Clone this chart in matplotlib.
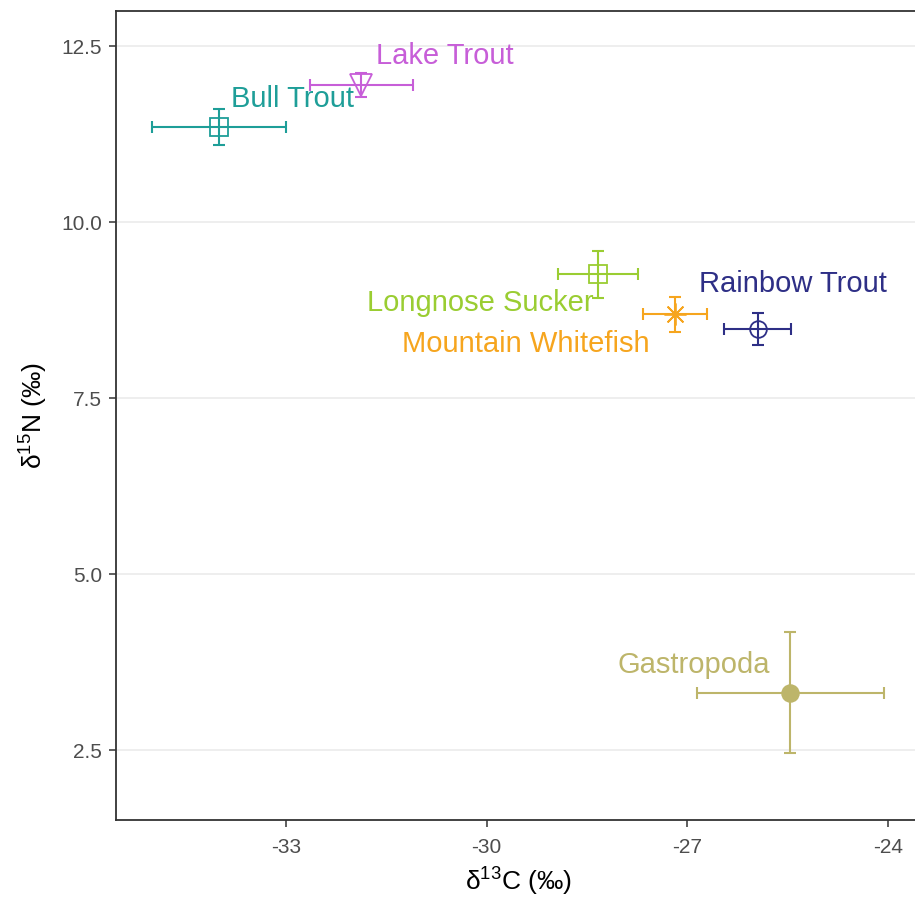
import numpy as np
import matplotlib
matplotlib.use("Agg")
import matplotlib.pyplot as plt

plt.rcParams['font.family'] = ['Liberation Sans', 'DejaVu Sans']

# ========= data =========
species = ["Bull Trout", "Lake Trout", "Longnose Sucker",
           "Mountain Whitefish", "Rainbow Trout", "Gastropoda"]
d13c = [-34.0, -31.88, -28.34, -27.19, -25.95, -25.46]
d13c_err = [1.0, 0.77, 0.6, 0.48, 0.5, 1.4]
d15n = [11.35, 11.95, 9.26, 8.69, 8.48, 3.32]
d15n_err = [0.26, 0.17, 0.33, 0.25, 0.23, 0.86]
label_x = [-32.91, -30.63, -30.1, -29.41, -25.42, -26.91]
label_y = [11.75, 12.36, 8.85, 8.27, 9.12, 3.71]

colors = ["#1E9E98", "#C75ED8", "#9ACD32", "#F6A51E", "#2E2F86", "#BDB56A"]
markers = ["s", "v", "s", (8, 2, 0), "o", "o"]
filled = [False, False, False, False, False, True]
msizes = [13, 16, 13, 16, 12, 12]

x_ticks = [-33, -30, -27, -24]
y_ticks = [2.5, 5.0, 7.5, 10.0, 12.5]

# ========= plot =========
fig = plt.figure(figsize=(9.15, 9.02), dpi=100)
ax = fig.add_axes([116 / 915, 82 / 902, 804 / 915, 809 / 902])

for i, name in enumerate(species):
    c = colors[i]
    ax.errorbar(d13c[i], d15n[i], xerr=d13c_err[i], yerr=d15n_err[i],
                fmt="none", ecolor=c, elinewidth=1.5, capsize=4.5, capthick=1.5,
                zorder=2)
    ax.plot(d13c[i], d15n[i], marker=markers[i], markersize=msizes[i],
            markerfacecolor=c if filled[i] else "none",
            markeredgecolor=c, markeredgewidth=1.3, linestyle="none", zorder=3)
    ax.text(label_x[i], label_y[i], name, color=c, fontsize=21,
            ha="center", va="center", zorder=4)

ax.set_xlim(-35.545, -23.52)
ax.set_ylim(1.51, 13.0)
ax.set_xticks(x_ticks)
ax.set_xticklabels([str(t) for t in x_ticks])
ax.set_yticks(y_ticks)
ax.set_yticklabels([f"{t:.1f}" for t in y_ticks])

ax.grid(axis="y", color="#EBEBEB", linewidth=1.2)
ax.grid(axis="x", visible=False)
ax.set_axisbelow(True)

for side in ["left", "bottom", "top"]:
    ax.spines[side].set_color("#333333")
    ax.spines[side].set_linewidth(1.3)
ax.spines["right"].set_visible(False)

ax.tick_params(axis="both", colors="#333333", length=5, width=1.1,
               labelsize=15, labelcolor="#4D4D4D")
ax.tick_params(axis="x", pad=8)
ax.tick_params(axis="y", pad=5)

ax.set_xlabel(r"$\mathregular{\delta^{13}C}$ (‰)", fontsize=19, labelpad=6)
ax.set_ylabel(r"$\mathregular{\delta^{15}N}$ (‰)", fontsize=19, labelpad=8)

fig.savefig("out.png", dpi=100)
